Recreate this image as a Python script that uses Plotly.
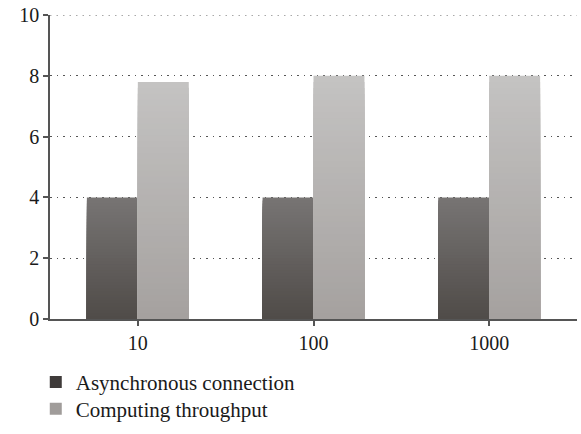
import plotly.graph_objects as go

categories = ["10", "100", "1000"]
async_conn = [4, 4, 4]
throughput = [7.8, 8, 8]
series_names = ["Asynchronous connection", "Computing throughput"]

# top/bottom shades for the vertical gradient of each series, and legend swatches
grad_async = ((0x78, 0x75, 0x74), (0x4f, 0x4b, 0x48))
grad_thr = ((0xc4, 0xc3, 0xc2), (0xa5, 0xa1, 0x9f))
legend_colors = ["#3f3b3a", "#a09c9a"]

N_LAYERS = 40
FONT = "Liberation Serif"
AXIS_COLOR = "#555555"
GRID_DASH = "1.5px,5px"


def mix(c0, c1, t):
    return "rgb({},{},{})".format(*[round(a + (b - a) * t) for a, b in zip(c0, c1)])


fig = go.Figure()

for name, vals, (top, bottom), lc, grp, leg in [
    (series_names[0], async_conn, grad_async, legend_colors[0], "a", "legend"),
    (series_names[1], throughput, grad_thr, legend_colors[1], "b", "legend2"),
]:
    # layered bars: tallest first, each shorter layer painted on top
    for k in range(N_LAYERS, 0, -1):
        frac = k / N_LAYERS
        fig.add_trace(go.Bar(
            x=categories,
            y=[v * frac for v in vals],
            offsetgroup=grp,
            marker=dict(color=mix(bottom, top, (k - 0.5) / N_LAYERS), line=dict(width=0)),
            showlegend=False,
            hoverinfo="skip",
        ))
    # legend entry
    fig.add_trace(go.Bar(
        x=[categories[0]], y=[None], offsetgroup=grp, name=name,
        marker=dict(color=lc, line=dict(width=0)),
        showlegend=True, hoverinfo="skip", legend=leg,
    ))

legend_style = dict(
    x=-0.027, xanchor="left", yanchor="middle",
    orientation="v", bgcolor="rgba(0,0,0,0)",
    font=dict(family=FONT, size=21, color="#1a1a1a"),
    itemwidth=30,
)

fig.update_layout(
    width=581, height=434,
    margin=dict(l=50, r=4, t=13, b=114),
    barmode="group",
    bargap=0.42,
    bargroupgap=0,
    plot_bgcolor="white",
    paper_bgcolor="white",
    font=dict(family=FONT, size=20, color="#1a1a1a"),
    showlegend=True,
    legend=dict(y=-0.2085, **legend_style),
    legend2=dict(y=-0.296, **legend_style),
    xaxis=dict(
        type="category",
        showline=True, linecolor=AXIS_COLOR, linewidth=1.5,
        ticks="outside", ticklen=5, tickcolor=AXIS_COLOR, tickwidth=1.5,
        showgrid=False, zeroline=False,
        tickfont=dict(family=FONT, size=20, color="#1a1a1a"),
    ),
    yaxis=dict(
        range=[0, 10], tickvals=[0, 2, 4, 6, 8, 10],
        showline=True, linecolor=AXIS_COLOR, linewidth=1.5,
        ticks="outside", ticklen=5, tickcolor=AXIS_COLOR, tickwidth=1.5,
        showgrid=True, gridcolor=AXIS_COLOR, gridwidth=1.2, griddash=GRID_DASH,
        zeroline=False,
        tickfont=dict(family=FONT, size=20, color="#1a1a1a"),
    ),
    shapes=[dict(
        type="line", xref="paper", yref="y", x0=0, x1=1, y0=10, y1=10,
        line=dict(color=AXIS_COLOR, width=1.2, dash=GRID_DASH), layer="below",
    )],
)

fig.write_html("out.html")
